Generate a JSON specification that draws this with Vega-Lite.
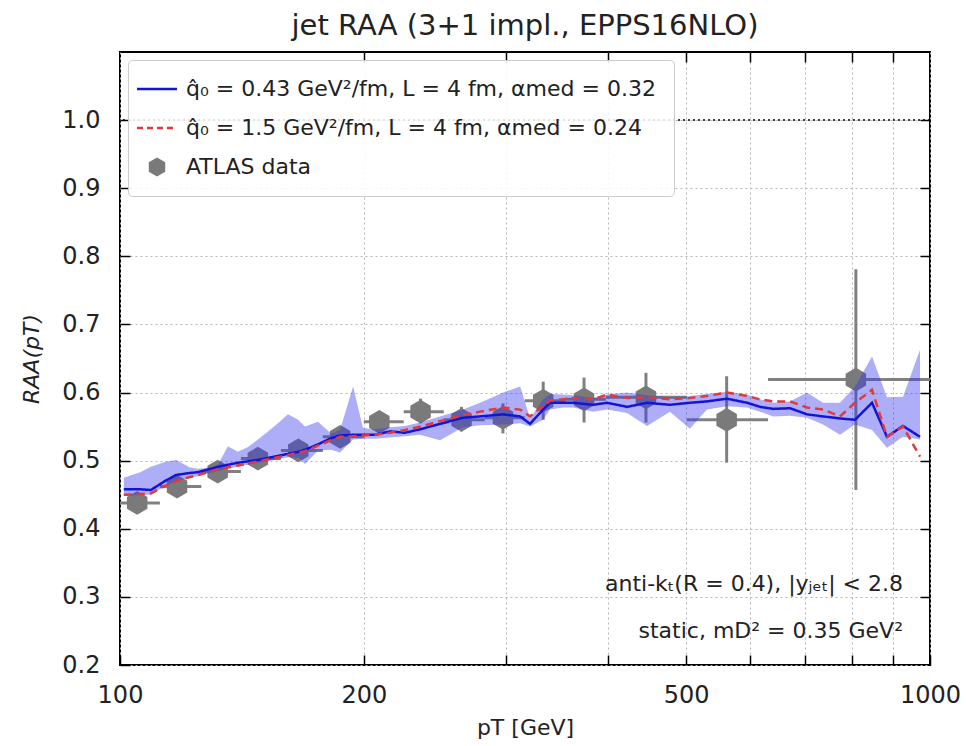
{
  "$schema": "https://vega.github.io/schema/vega-lite/v6.json",
  "width": 810,
  "height": 613,
  "autosize": {"type": "none"},
  "padding": {"left": 120, "top": 52, "right": 36, "bottom": 81},
  "background": "white",
  "title": {"text": "jet RAA (3+1 impl., EPPS16NLO)", "fontSize": 29, "font": "DejaVu Sans", "fontWeight": "normal", "color": "#222222", "offset": 10},
  "config": {
    "view": {"stroke": "black", "strokeWidth": 2},
    "axis": {"labelFont": "DejaVu Sans", "titleFont": "DejaVu Sans", "labelColor": "#222222", "titleColor": "#222222", "tickColor": "black", "domain": false},
    "legend": {"labelFont": "DejaVu Sans"}
  },
  "datasets": {
    "model": [
      {"p": 101.1, "b": 0.458, "r": 0.450, "lo": 0.448, "hi": 0.475},
      {"p": 105.9, "b": 0.458, "r": 0.451, "lo": 0.450, "hi": 0.483},
      {"p": 109.2, "b": 0.457, "r": 0.452, "lo": 0.450, "hi": 0.491},
      {"p": 113.6, "b": 0.470, "r": 0.463, "lo": 0.462, "hi": 0.498},
      {"p": 117.3, "b": 0.479, "r": 0.470, "lo": 0.470, "hi": 0.501},
      {"p": 122.0, "b": 0.482, "r": 0.476, "lo": 0.475, "hi": 0.490},
      {"p": 124.8, "b": 0.483, "r": 0.479, "lo": 0.477, "hi": 0.488},
      {"p": 129.2, "b": 0.488, "r": 0.484, "lo": 0.482, "hi": 0.490},
      {"p": 132.1, "b": 0.491, "r": 0.487, "lo": 0.485, "hi": 0.494},
      {"p": 135.9, "b": 0.494, "r": 0.490, "lo": 0.488, "hi": 0.521},
      {"p": 139.8, "b": 0.497, "r": 0.493, "lo": 0.491, "hi": 0.513},
      {"p": 143.9, "b": 0.499, "r": 0.496, "lo": 0.494, "hi": 0.520},
      {"p": 148.0, "b": 0.501, "r": 0.499, "lo": 0.497, "hi": 0.531},
      {"p": 152.3, "b": 0.504, "r": 0.502, "lo": 0.499, "hi": 0.543},
      {"p": 156.7, "b": 0.507, "r": 0.505, "lo": 0.502, "hi": 0.555},
      {"p": 161.2, "b": 0.510, "r": 0.508, "lo": 0.505, "hi": 0.568},
      {"p": 165.9, "b": 0.513, "r": 0.512, "lo": 0.505, "hi": 0.560},
      {"p": 169.2, "b": 0.516, "r": 0.514, "lo": 0.495, "hi": 0.550},
      {"p": 175.6, "b": 0.524, "r": 0.522, "lo": 0.515, "hi": 0.557},
      {"p": 182.2, "b": 0.533, "r": 0.530, "lo": 0.516, "hi": 0.540},
      {"p": 186.9, "b": 0.537, "r": 0.535, "lo": 0.512, "hi": 0.545},
      {"p": 194.0, "b": 0.538, "r": 0.536, "lo": 0.531, "hi": 0.609},
      {"p": 199.5, "b": 0.538, "r": 0.537, "lo": 0.532, "hi": 0.548},
      {"p": 206.4, "b": 0.538, "r": 0.538, "lo": 0.532, "hi": 0.546},
      {"p": 215.4, "b": 0.543, "r": 0.541, "lo": 0.534, "hi": 0.549},
      {"p": 224.8, "b": 0.541, "r": 0.545, "lo": 0.536, "hi": 0.551},
      {"p": 234.6, "b": 0.546, "r": 0.550, "lo": 0.538, "hi": 0.556},
      {"p": 248.4, "b": 0.554, "r": 0.558, "lo": 0.530, "hi": 0.565},
      {"p": 265.1, "b": 0.563, "r": 0.567, "lo": 0.549, "hi": 0.575},
      {"p": 278.3, "b": 0.565, "r": 0.572, "lo": 0.552, "hi": 0.585},
      {"p": 297.2, "b": 0.568, "r": 0.578, "lo": 0.553, "hi": 0.600},
      {"p": 311.9, "b": 0.565, "r": 0.575, "lo": 0.555, "hi": 0.609},
      {"p": 320.8, "b": 0.554, "r": 0.565, "lo": 0.550, "hi": 0.562},
      {"p": 332.9, "b": 0.575, "r": 0.580, "lo": 0.560, "hi": 0.590},
      {"p": 339.6, "b": 0.585, "r": 0.588, "lo": 0.575, "hi": 0.598},
      {"p": 352.3, "b": 0.585, "r": 0.590, "lo": 0.578, "hi": 0.597},
      {"p": 362.5, "b": 0.585, "r": 0.592, "lo": 0.578, "hi": 0.596},
      {"p": 383.7, "b": 0.582, "r": 0.590, "lo": 0.572, "hi": 0.592},
      {"p": 399.3, "b": 0.585, "r": 0.597, "lo": 0.575, "hi": 0.597},
      {"p": 422.7, "b": 0.579, "r": 0.592, "lo": 0.570, "hi": 0.600},
      {"p": 447.4, "b": 0.585, "r": 0.593, "lo": 0.551, "hi": 0.596},
      {"p": 477.5, "b": 0.582, "r": 0.590, "lo": 0.572, "hi": 0.593},
      {"p": 505.3, "b": 0.585, "r": 0.592, "lo": 0.547, "hi": 0.595},
      {"p": 530.4, "b": 0.587, "r": 0.595, "lo": 0.575, "hi": 0.598},
      {"p": 561.6, "b": 0.591, "r": 0.600, "lo": 0.580, "hi": 0.601},
      {"p": 594.6, "b": 0.585, "r": 0.595, "lo": 0.578, "hi": 0.597},
      {"p": 616.9, "b": 0.579, "r": 0.590, "lo": 0.572, "hi": 0.590},
      {"p": 640.4, "b": 0.576, "r": 0.587, "lo": 0.565, "hi": 0.585},
      {"p": 671.8, "b": 0.577, "r": 0.587, "lo": 0.566, "hi": 0.587},
      {"p": 704.9, "b": 0.568, "r": 0.578, "lo": 0.563, "hi": 0.600},
      {"p": 737.8, "b": 0.565, "r": 0.575, "lo": 0.553, "hi": 0.585},
      {"p": 774.2, "b": 0.562, "r": 0.565, "lo": 0.538, "hi": 0.585},
      {"p": 808.0, "b": 0.560, "r": 0.585, "lo": 0.553, "hi": 0.609},
      {"p": 848.0, "b": 0.585, "r": 0.604, "lo": 0.545, "hi": 0.653},
      {"p": 884.9, "b": 0.535, "r": 0.535, "lo": 0.519, "hi": 0.593},
      {"p": 926.2, "b": 0.551, "r": 0.550, "lo": 0.535, "hi": 0.594},
      {"p": 972.0, "b": 0.535, "r": 0.506, "lo": 0.531, "hi": 0.663}
    ],
    "atlas": [
      {"p": 105, "R": 0.438, "lo": 0.428, "hi": 0.448, "x1": 100, "x2": 112},
      {"p": 117.6, "R": 0.462, "lo": 0.452, "hi": 0.472, "x1": 112, "x2": 126},
      {"p": 132, "R": 0.484, "lo": 0.474, "hi": 0.494, "x1": 126, "x2": 141},
      {"p": 148, "R": 0.503, "lo": 0.493, "hi": 0.513, "x1": 141, "x2": 158},
      {"p": 166, "R": 0.515, "lo": 0.505, "hi": 0.525, "x1": 158, "x2": 178},
      {"p": 187, "R": 0.535, "lo": 0.523, "hi": 0.547, "x1": 178, "x2": 200},
      {"p": 209, "R": 0.557, "lo": 0.543, "hi": 0.572, "x1": 200, "x2": 224},
      {"p": 235, "R": 0.572, "lo": 0.555, "hi": 0.591, "x1": 224, "x2": 251},
      {"p": 264, "R": 0.560, "lo": 0.543, "hi": 0.579, "x1": 251, "x2": 282},
      {"p": 297, "R": 0.563, "lo": 0.540, "hi": 0.584, "x1": 282, "x2": 316},
      {"p": 333, "R": 0.588, "lo": 0.560, "hi": 0.616, "x1": 316, "x2": 355},
      {"p": 374, "R": 0.590, "lo": 0.556, "hi": 0.622, "x1": 355, "x2": 398},
      {"p": 446, "R": 0.593, "lo": 0.556, "hi": 0.629, "x1": 398, "x2": 501},
      {"p": 561, "R": 0.560, "lo": 0.497, "hi": 0.624, "x1": 501, "x2": 631},
      {"p": 810, "R": 0.619, "lo": 0.457, "hi": 0.781, "x1": 631, "x2": 1000}
    ]
  },
  "layer": [
    {
      "data": {"name": "model"},
      "mark": {"type": "area", "color": "#3333ee", "opacity": 0.0},
      "encoding": {
        "x": {"field": "p", "type": "quantitative", "scale": {"type": "log", "domain": [100, 1000], "nice": false},
          "axis": {"orient": "bottom", "values": [100, 200, 300, 400, 500, 600, 700, 800, 900, 1000], "format": "d",
            "labelExpr": "indexof([100, 200, 500, 1000], datum.value) >= 0 ? datum.label : ''",
            "grid": true, "gridDash": [2, 3], "gridColor": "#b5b5b5", "gridWidth": 1,
            "tickSize": -10, "tickWidth": 1.5, "labelPadding": 28, "labelFontSize": 24, "labelFlush": false,
            "title": "pT [GeV]", "titleFontSize": 22, "titleFontWeight": "normal", "titlePadding": 10}},
        "y": {"field": "lo", "type": "quantitative", "scale": {"domain": [0.2, 1.1], "nice": false, "zero": false},
          "axis": {"orient": "left", "values": [0.2, 0.3, 0.4, 0.5, 0.6, 0.7, 0.8, 0.9, 1.0], "format": ".1f",
            "grid": true, "gridDash": [2, 3], "gridColor": "#b5b5b5", "gridWidth": 1,
            "tickSize": -10, "tickWidth": 1.5, "labelPadding": 30, "labelFontSize": 24,
            "title": "RAA(pT)", "titleFontSize": 22, "titleFontWeight": "normal", "titleFontStyle": "italic", "titlePadding": 18}},
        "y2": {"field": "hi"}
      }
    },
    {
      "data": {"values": [{}]},
      "mark": {"type": "rule", "color": "black", "strokeDash": [2, 3], "strokeWidth": 1.5},
      "encoding": {"y": {"datum": 1.0, "type": "quantitative", "axis": null}}
    },
    {
      "data": {"name": "atlas"},
      "mark": {"type": "rule", "color": "#808080", "strokeWidth": 3},
      "encoding": {
        "x": {"field": "p", "type": "quantitative", "axis": null},
        "y": {"field": "lo", "type": "quantitative", "axis": null},
        "y2": {"field": "hi"}
      }
    },
    {
      "data": {"name": "atlas"},
      "mark": {"type": "rule", "color": "#808080", "strokeWidth": 3, "clip": true},
      "encoding": {
        "x": {"field": "x1", "type": "quantitative", "axis": null},
        "x2": {"field": "x2"},
        "y": {"field": "R", "type": "quantitative", "axis": null}
      }
    },
    {
      "data": {"name": "atlas"},
      "mark": {"type": "point", "filled": true, "opacity": 1, "size": 560, "shape": "M0,-1L0.866,-0.5L0.866,0.5L0,1L-0.866,0.5L-0.866,-0.5Z"},
      "encoding": {
        "x": {"field": "p", "type": "quantitative", "axis": null},
        "y": {"field": "R", "type": "quantitative", "axis": null},
        "color": {"datum": "atlas", "type": "nominal"}
      }
    },
    {
      "data": {"name": "model"},
      "mark": {"type": "area", "color": "#3333ee", "opacity": 0.4},
      "encoding": {
        "x": {"field": "p", "type": "quantitative", "axis": null},
        "y": {"field": "lo", "type": "quantitative", "axis": null},
        "y2": {"field": "hi"}
      }
    },
    {
      "data": {"name": "model"},
      "transform": [{"fold": ["b", "r"], "as": ["series", "R"]}],
      "mark": {"type": "line", "strokeWidth": 2.5},
      "encoding": {
        "x": {"field": "p", "type": "quantitative",
          "axis": {"orient": "top", "values": [200, 300, 400, 500, 600, 700, 800, 900], "labels": false, "grid": false, "tickSize": -10, "tickWidth": 1.5, "title": null}},
        "y": {"field": "R", "type": "quantitative",
          "axis": {"orient": "right", "values": [0.3, 0.4, 0.5, 0.6, 0.7, 0.8, 0.9, 1.0], "labels": false, "grid": false, "tickSize": -10, "tickWidth": 1.5, "title": null}},
        "color": {"field": "series", "type": "nominal",
          "scale": {"domain": ["b", "r", "atlas"], "range": ["#1414d8", "#e23a3a", "#7a7a7a"]},
          "legend": {
            "orient": "top-left", "offset": 8, "title": null, "padding": 18, "rowPadding": 17,
            "strokeColor": "#cccccc", "fillColor": "rgba(255,255,255,0.85)", "cornerRadius": 4,
            "labelFontSize": 22, "labelColor": "#222222", "labelOffset": 18, "labelLimit": 700,
            "labelExpr": "datum.value === 'b' ? 'q̂₀ = 0.43 GeV²/fm, L = 4 fm, αmed = 0.32' : datum.value === 'r' ? 'q̂₀ = 1.5 GeV²/fm, L = 4 fm, αmed = 0.24' : 'ATLAS data'",
            "encode": {"symbols": {"update": {
              "shape": {"signal": "datum.value === 'atlas' ? 'M0,-1L0.866,-0.5L0.866,0.5L0,1L-0.866,0.5L-0.866,-0.5Z' : 'stroke'"},
              "fill": {"signal": "datum.value === 'atlas' ? '#7a7a7a' : 'transparent'"},
              "stroke": {"signal": "datum.value === 'atlas' ? '#7a7a7a' : datum.value === 'b' ? '#1414d8' : '#e23a3a'"},
              "strokeDash": {"signal": "datum.value === 'r' ? [6, 4] : [1, 0]"},
              "strokeWidth": {"signal": "datum.value === 'atlas' ? 0 : 2.5"},
              "size": {"signal": "datum.value === 'atlas' ? 360 : 1600"},
              "opacity": {"value": 1}
            }}}
          }},
        "strokeDash": {"field": "series", "type": "nominal", "scale": {"domain": ["b", "r"], "range": [[1, 0], [8, 5]]}, "legend": null}
      }
    },
    {
      "data": {"values": [{}]},
      "mark": {"type": "text", "text": "anti-kₜ(R = 0.4), |yⱼₑₜ| < 2.8", "align": "right", "baseline": "middle", "fontSize": 22, "font": "DejaVu Sans", "color": "#222222"},
      "encoding": {"x": {"datum": 926, "type": "quantitative", "axis": null}, "y": {"datum": 0.319, "type": "quantitative", "axis": null}}
    },
    {
      "data": {"values": [{}]},
      "mark": {"type": "text", "text": "static, mD² = 0.35 GeV²", "align": "right", "baseline": "middle", "fontSize": 22, "font": "DejaVu Sans", "color": "#222222"},
      "encoding": {"x": {"datum": 926, "type": "quantitative", "axis": null}, "y": {"datum": 0.25, "type": "quantitative", "axis": null}}
    }
  ],
  "resolve": {"axis": {"x": "independent", "y": "independent"}}
}
